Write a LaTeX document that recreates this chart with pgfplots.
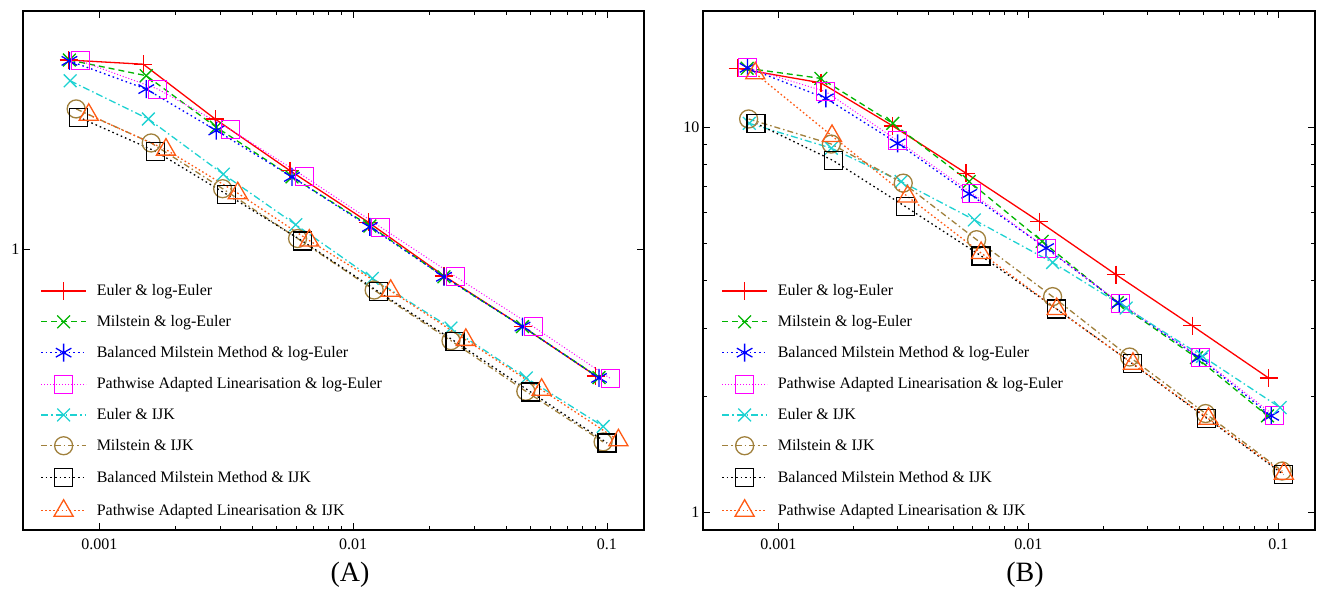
\documentclass[border=0pt]{standalone}
\usepackage{fontspec}
\setmainfont{Liberation Serif}
\usepackage{pgfplots}
\pgfplotsset{compat=1.18}
\definecolor{cgreen}{HTML}{00B400}
\definecolor{cblue}{HTML}{0000FF}
\definecolor{cmag}{HTML}{FF00FF}
\definecolor{ccyan}{HTML}{1ED2D2}
\definecolor{cbrown}{HTML}{A0803C}
\definecolor{corange}{HTML}{FF5A14}
\tikzset{
 s1/.style={red, solid, mark=+},
 s2/.style={cgreen, dash pattern=on 6pt off 4pt, mark=x},
 s3/.style={cblue, dash pattern=on 1.6pt off 3pt, mark=asterisk},
 s4/.style={cmag, line width=1pt, dash pattern=on 1pt off 2pt, mark=square},
 s5/.style={ccyan, dash pattern=on 7pt off 3pt on 1.5pt off 3pt, mark=x},
 s6/.style={cbrown, dash pattern=on 6pt off 3pt on 1.5pt off 3pt, mark=o},
 s7/.style={black, dash pattern=on 1.6pt off 3pt, mark=square},
 s8/.style={corange, dash pattern=on 1.6pt off 2.5pt, mark=triangle, mark size=11pt},
}
\begin{document}
\begin{tikzpicture}[x=1pt,y=1pt]
\useasboundingbox (0,0) rectangle (1325,589);
\begin{axis}[xmode=log, ymode=log, scale only axis, anchor=south west,
  at={(23pt,59pt)}, width=621pt, height=519pt,
  xmin=0.0005, xmax=0.14,
  xtick={0.001,0.01,0.1}, xticklabels={0.001,0.01,0.1},
  ymin=0.15, ymax=5, ytick={1}, yticklabels={1},
  axis line style={line width=1.4pt},
  every tick/.style={black, line width=0.8pt},
  major tick length=7pt, minor tick length=4pt,
  tick label style={font=\fontsize{16}{19}\selectfont},
  xticklabel style={yshift=-5pt},
  /pgf/number format/assume math mode=true,
  legend cell align=left,
  legend style={draw=none, fill=none, font=\fontsize{16}{19}\selectfont, anchor=north west, row sep=13.5pt, at={(0.023,0.482)}, /tikz/every odd column/.append style={column sep=8pt}},
  legend image code/.code={\draw[mark repeat=2,mark phase=2] plot coordinates {(0pt,0pt) (22.5pt,0pt) (45pt,0pt)};},
  every axis plot/.append style={line width=1.3pt, mark size=9pt, mark options={solid}}]
\addplot[s1] coordinates {(0.000757,3.59) (0.00149,3.49) (0.00286,2.41) (0.00564,1.70) (0.01148,1.20) (0.0228,0.835) (0.0465,0.593) (0.0904,0.425)};
\addlegendentry{Euler \& log-Euler}
\addplot[s2] coordinates {(0.000762,3.59) (0.00153,3.23) (0.00289,2.28) (0.00574,1.63) (0.01164,1.17) (0.0228,0.83) (0.0465,0.593) (0.0931,0.42)};
\addlegendentry{Milstein \& log-Euler}
\addplot[s3] coordinates {(0.000762,3.57) (0.00153,2.95) (0.00289,2.23) (0.00574,1.63) (0.01164,1.162) (0.0228,0.83) (0.0465,0.593) (0.0931,0.419)};
\addlegendentry{Balanced Milstein Method \& log-Euler}
\addplot[s4] coordinates {(0.000842,3.57) (0.00170,2.95) (0.00330,2.24) (0.00646,1.63) (0.01285,1.16) (0.0254,0.83) (0.0512,0.593) (0.1035,0.417)};
\addlegendentry{Pathwise Adapted Linearisation \& log-Euler}
\addplot[s5] coordinates {(0.000767,3.12) (0.00156,2.41) (0.00308,1.66) (0.00594,1.18) (0.0119,0.821) (0.0243,0.587) (0.0481,0.419) (0.0967,0.302)};
\addlegendentry{Euler \& IJK}
\addplot[s6] coordinates {(0.000810,2.58) (0.00160,2.05) (0.00306,1.505) (0.00604,1.075) (0.0121,0.759) (0.0243,0.539) (0.0479,0.383) (0.0966,0.272)};
\addlegendentry{Milstein \& IJK}
\addplot[s7] coordinates {(0.000829,2.44) (0.00166,1.94) (0.00317,1.45) (0.00631,1.057) (0.0126,0.750) (0.0252,0.536) (0.0501,0.381) (0.1002,0.270)};
\addlegendentry{Balanced Milstein Method \& IJK}
\addplot[s8] coordinates {(0.000908,2.48) (0.00183,1.96) (0.00351,1.46) (0.00672,1.06) (0.01406,0.755) (0.0278,0.542) (0.0553,0.387) (0.111,0.275)};
\addlegendentry{Pathwise Adapted Linearisation \& IJK}
\end{axis}
\begin{axis}[xmode=log, ymode=log, scale only axis, anchor=south west,
  at={(703pt,59pt)}, width=612pt, height=519pt,
  xmin=0.0005, xmax=0.14,
  xtick={0.001,0.01,0.1}, xticklabels={0.001,0.01,0.1},
  ymin=0.9, ymax=20, ytick={1,10}, yticklabels={1,10},
  axis line style={line width=1.4pt},
  every tick/.style={black, line width=0.8pt},
  major tick length=7pt, minor tick length=4pt,
  tick label style={font=\fontsize{16}{19}\selectfont},
  xticklabel style={yshift=-5pt},
  /pgf/number format/assume math mode=true,
  legend cell align=left,
  legend style={draw=none, fill=none, font=\fontsize{16}{19}\selectfont, anchor=north west, row sep=13.5pt, at={(0.025,0.482)}, /tikz/every odd column/.append style={column sep=8pt}},
  legend image code/.code={\draw[mark repeat=2,mark phase=2] plot coordinates {(0pt,0pt) (22.5pt,0pt) (45pt,0pt)};},
  every axis plot/.append style={line width=1.3pt, mark size=9pt, mark options={solid}}]
\addplot[s1] coordinates {(0.000688,14.19) (0.00148,13.02) (0.00287,10.06) (0.00563,7.59) (0.01106,5.68) (0.0224,4.14) (0.0452,3.05) (0.0915,2.23)};
\addlegendentry{Euler \& log-Euler}
\addplot[s2] coordinates {(0.000751,14.2) (0.00148,13.37) (0.00287,10.22) (0.0058,7.22) (0.01135,5.05) (0.0227,3.50) (0.047,2.52) (0.0904,1.78)};
\addlegendentry{Milstein \& log-Euler}
\addplot[s3] coordinates {(0.000754,14.24) (0.00155,11.87) (0.0030,9.07) (0.0058,6.71) (0.01177,4.85) (0.0231,3.49) (0.0483,2.52) (0.0935,1.78)};
\addlegendentry{Balanced Milstein Method \& log-Euler}
\addplot[s4] coordinates {(0.000754,14.24) (0.00155,12.35) (0.0030,9.21) (0.00595,6.73) (0.01177,4.85) (0.0233,3.49) (0.0488,2.52) (0.0964,1.78)};
\addlegendentry{Pathwise Adapted Linearisation \& log-Euler}
\addplot[s5] coordinates {(0.000766,10.22) (0.00163,8.81) (0.0031,7.22) (0.00608,5.74) (0.0125,4.45) (0.0246,3.39) (0.0497,2.54) (0.1016,1.87)};
\addlegendentry{Euler \& IJK}
\addplot[s6] coordinates {(0.000761,10.49) (0.00163,9.03) (0.00316,7.15) (0.00621,5.10) (0.0125,3.63) (0.0254,2.53) (0.0511,1.805) (0.1035,1.28)};
\addlegendentry{Milstein \& IJK}
\addplot[s7] coordinates {(0.000814,10.22) (0.00166,8.18) (0.00322,6.22) (0.00647,4.63) (0.01298,3.37) (0.0261,2.43) (0.0517,1.755) (0.1047,1.254)};
\addlegendentry{Balanced Milstein Method \& IJK}
\addplot[s8] coordinates {(0.000809,13.78) (0.00164,9.48) (0.00329,6.60) (0.00647,4.71) (0.01298,3.37) (0.0262,2.43) (0.0525,1.75) (0.1051,1.26)};
\addlegendentry{Pathwise Adapted Linearisation \& IJK}
\end{axis}
\node[font=\fontsize{28}{32}\selectfont] at (350,14) {(A)};
\node[font=\fontsize{28}{32}\selectfont] at (1025,14) {(B)};
\end{tikzpicture}
\end{document}
